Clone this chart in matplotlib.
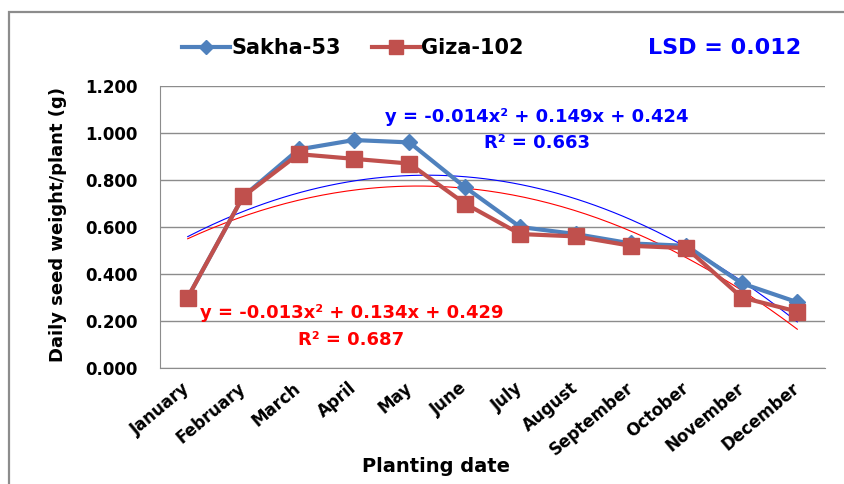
import numpy as np
import matplotlib.pyplot as plt
from matplotlib.patches import Rectangle

months = ['January', 'February', 'March', 'April', 'May', 'June', 'July',
          'August', 'September', 'October', 'November', 'December']
sakha = [0.30, 0.73, 0.93, 0.97, 0.96, 0.77, 0.60, 0.57, 0.53, 0.52, 0.36, 0.28]
giza = [0.30, 0.73, 0.91, 0.89, 0.87, 0.70, 0.57, 0.56, 0.52, 0.51, 0.30, 0.24]
# trendline coefficients as printed on the chart (a, b, c)
sakha_fit = [-0.014, 0.149, 0.424]
giza_fit = [-0.013, 0.134, 0.429]
yticks = [0.0, 0.2, 0.4, 0.6, 0.8, 1.0, 1.2]

plt.rcParams['font.family'] = ['DejaVu Sans']
plt.rcParams['font.weight'] = 'bold'

fig = plt.figure(figsize=(8.44, 4.84), dpi=100)
ax = fig.add_axes([160 / 844, 1 - 368 / 484, 665 / 844, 282 / 484])

# chart border
fig.patches.append(Rectangle((9 / 844, -0.1), 1.2, 1 - 12 / 484 + 0.1,
                             transform=fig.transFigure, fill=False,
                             edgecolor='#8c8c8c', linewidth=1.6))

x = np.arange(1, len(months) + 1)
xs = np.linspace(1, 12, 200)
ax.plot(xs, np.polyval(sakha_fit, xs), color='blue', lw=0.8, zorder=2)
ax.plot(xs, np.polyval(giza_fit, xs), color='red', lw=0.8, zorder=2)

ax.plot(x, sakha, color='#4F81BD', lw=3, marker='D', ms=8.5, label='Sakha-53', zorder=3)
ax.plot(x, giza, color='#C0504D', lw=3, marker='s', ms=12, label='Giza-102', zorder=4)

ax.set_xlim(0.5, 12.5)
ax.set_ylim(0, 1.2)
ax.set_yticks(yticks)
ax.set_yticklabels([f'{v:.3f}' for v in yticks], fontsize=12, fontweight='bold')
ax.set_xticks(x)
ax.set_xticklabels(months, rotation=40, ha='right', va='center', rotation_mode='anchor',
                   fontsize=12, fontweight='bold')
ax.tick_params(axis='y', length=0, pad=16)
ax.tick_params(axis='x', length=0, pad=13)
ax.grid(axis='y', color='#8c8c8c', lw=1)
for s in ['top', 'right']:
    ax.spines[s].set_visible(False)
for s in ['left', 'bottom']:
    ax.spines[s].set_color('#8c8c8c')

fig.text(58 / 844, 1 - 225 / 484, 'Daily seed weight/plant (g)', rotation=90,
         fontsize=13, fontweight='bold', ha='center', va='center')
fig.text(436 / 844, 1 - 466 / 484, 'Planting date', fontsize=14,
         fontweight='bold', ha='center', va='center')

ax.text(7.3, 1.068, 'y = -0.014x² + 0.149x + 0.424', color='blue', fontsize=13,
        fontweight='bold', ha='center', va='center')
ax.text(7.3, 0.957, 'R² = 0.663', color='blue', fontsize=13,
        fontweight='bold', ha='center', va='center')
ax.text(3.96, 0.234, 'y = -0.013x² + 0.134x + 0.429', color='red', fontsize=13,
        fontweight='bold', ha='center', va='center')
ax.text(3.95, 0.119, 'R² = 0.687', color='red', fontsize=13,
        fontweight='bold', ha='center', va='center')

fig.legend(loc='center', bbox_to_anchor=(353 / 844, 1 - 48 / 484), ncol=2,
           frameon=False, fontsize=15, handlelength=2.3, handletextpad=0.05,
           columnspacing=1.5, markerscale=0.8)
fig.text(725 / 844, 1 - 48 / 484, 'LSD = 0.012', color='blue', fontsize=16,
         fontweight='bold', ha='center', va='center')

fig.savefig('out.png', dpi=100)
